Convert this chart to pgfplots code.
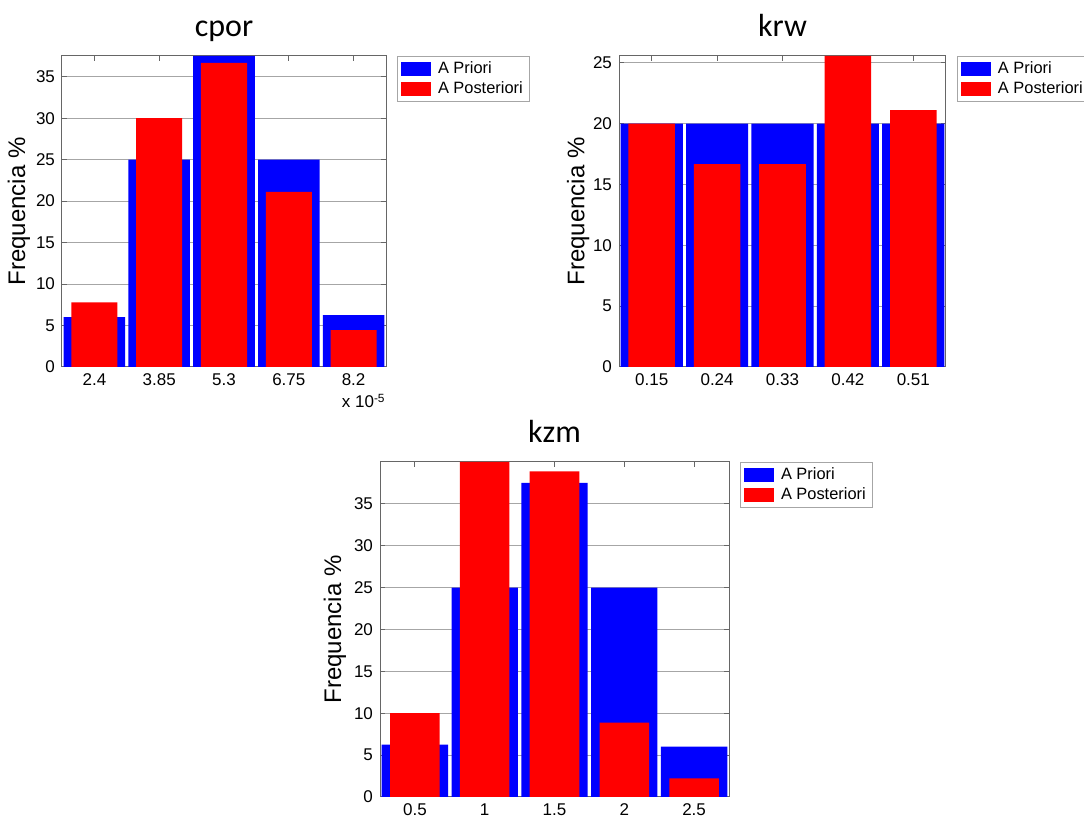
\documentclass[border=0pt]{standalone}
\usepackage{fontspec}
\setmainfont{Liberation Sans}
\newfontfamily\titlefont{Carlito}
\usepackage{pgfplots}
\pgfplotsset{compat=1.18}

\pgfplotsset{
  histo/.style={
    scale only axis,
    anchor=south west,
    ymin=0,
    ytick={0,5,...,35},
    ymajorgrids,
    grid style={black!35, line width=0.5pt},
    axis line style={black!60, line width=0.5pt},
    tick style={black!60, line width=0.5pt},
    tick align=inside,
    major tick length=2.5pt,
    tick label style={font=\fontsize{8.5}{10}\selectfont},
    /pgf/number format/assume math mode=true,
    ylabel={Frequencia \%},
    ylabel style={anchor=center, font=\fontsize{12}{14}\selectfont},
    title style={at={(axis description cs:0.5,1)}, anchor=base, yshift=3.5pt,
                 font=\titlefont\fontsize{16}{19}\selectfont},
    legend style={at={(axis description cs:1,1)}, anchor=north west, xshift=5.5pt,
                  draw=black!35, font=\fontsize{8.2}{10}\selectfont,
                  inner xsep=2pt, inner ysep=1.2pt, row sep=0pt,
                  nodes={inner sep=1.3pt}},
    legend cell align=left,
    clip=false,
  },
  priori/.style={ybar, bar shift=0pt, fill=blue, draw=none,
    legend image code/.code={\fill[blue] (0pt,-3.6pt) rectangle (15pt,3.6pt);
                             \path (17pt,0pt);}},
  post/.style={ybar, bar shift=0pt, fill=red, draw=none,
    legend image code/.code={\fill[red] (0pt,-3.6pt) rectangle (15pt,3.6pt);
                             \path (17pt,0pt);}},
}

\begin{document}
\begin{tikzpicture}
\useasboundingbox (0,0) rectangle (542pt,408.5pt);

% cpor (x 10^-5)
\begin{axis}[histo, name=cpor,
  at={(31pt,225pt)}, width=162pt, height=155.5pt,
  title={cpor},
  xmin=1.675, xmax=8.925, ymax=37.5,
  xtick={2.4,3.85,5.3,6.75,8.2},
  xticklabels={2.4,3.85,5.3,6.75,8.2},
  ylabel style={at={(axis description cs:-0.133,0.5)}},
]
\addplot[priori, bar width=1.3775] coordinates {(2.4,6) (3.85,25) (5.3,37.5) (6.75,25) (8.2,6.25)};
\addplot[post, bar width=1.03] coordinates {(2.4,7.78) (3.85,30) (5.3,36.67) (6.75,21.11) (8.2,4.44)};
\legend{A Priori, A Posteriori}
\end{axis}
\node[anchor=base east, font=\fontsize{8.5}{10}\selectfont, inner sep=0pt]
  at ([yshift=-20.5pt]cpor.south east) {x 10\textsuperscript{-5}};

% krw
\begin{axis}[histo,
  at={(309.5pt,225pt)}, width=163.5pt, height=155.5pt,
  title={krw},
  xmin=0.105, xmax=0.555, ymax=25.56,
  ytick={0,5,...,25},
  xtick={0.15,0.24,0.33,0.42,0.51},
  xticklabels={0.15,0.24,0.33,0.42,0.51},
  ylabel style={at={(axis description cs:-0.125,0.5)}},
]
\addplot[priori, bar width=0.0855] coordinates {(0.15,20) (0.24,20) (0.33,20) (0.42,20) (0.51,20)};
\addplot[post, bar width=0.064] coordinates {(0.15,20) (0.24,16.67) (0.33,16.67) (0.42,25.56) (0.51,21.11)};
\legend{A Priori, A Posteriori}
\end{axis}

% kzm
\begin{axis}[histo,
  at={(190pt,10pt)}, width=174.5pt, height=167.5pt,
  title={kzm},
  xmin=0.25, xmax=2.75, ymax=40,
  xtick={0.5,1,1.5,2,2.5},
  xticklabels={0.5,1,1.5,2,2.5},
  ylabel style={at={(axis description cs:-0.129,0.5)}},
]
\addplot[priori, bar width=0.475] coordinates {(0.5,6.25) (1,25) (1.5,37.5) (2,25) (2.5,6)};
\addplot[post, bar width=0.355] coordinates {(0.5,10) (1,40) (1.5,38.89) (2,8.89) (2.5,2.22)};
\legend{A Priori, A Posteriori}
\end{axis}
\end{tikzpicture}
\end{document}
